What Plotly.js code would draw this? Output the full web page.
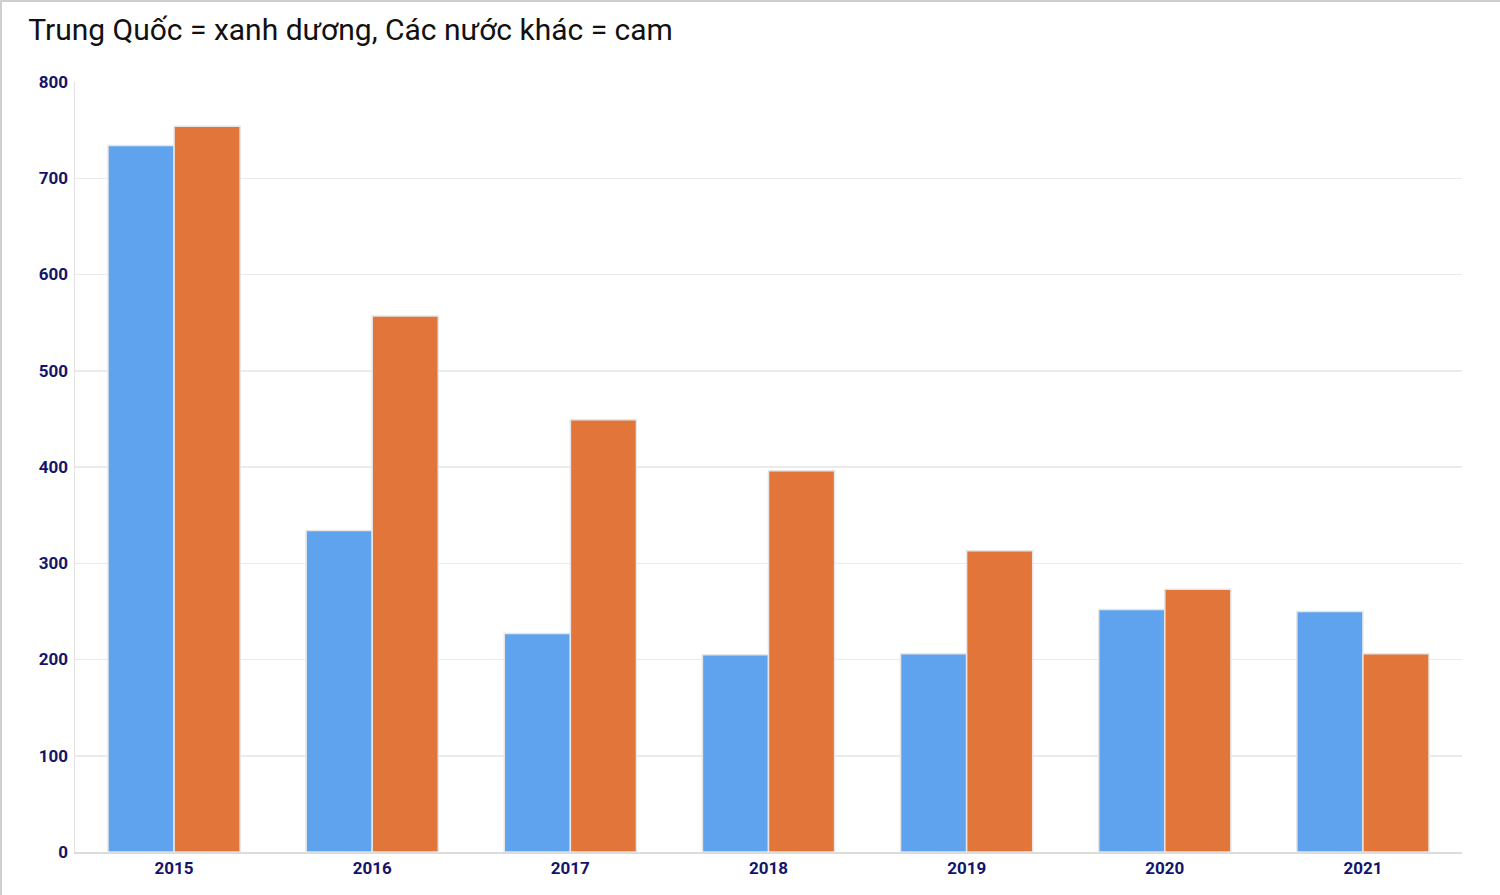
<!DOCTYPE html>
<html>
<head>
<meta charset="utf-8">
<script src="https://cdn.plot.ly/plotly-3.0.1.min.js"></script>
<style>
html,body{margin:0;padding:0;background:#fff;}
#chart{width:1498px;height:893px;border-left:2px solid #cfcfcf;border-top:2px solid #cfcfcf;}
</style>
</head>
<body>
<div id="chart"></div>
<script>
const years = ["2015","2016","2017","2018","2019","2020","2021"];
const chinaValues = [734, 334, 227, 205, 206, 252, 250];
const otherValues = [754, 557, 449, 396, 313, 273, 206];
const yTicks = [0, 100, 200, 300, 400, 500, 600, 700, 800];

const traces = [
  {type:"bar", name:"Trung Quốc", x:years, y:chinaValues,
   marker:{color:"#5fa3ee", line:{color:"#e6e6e6", width:1.5}}},
  {type:"bar", name:"Các nước khác", x:years, y:otherValues,
   marker:{color:"#e2763a", line:{color:"#e6e6e6", width:1.5}}}
];

const layout = {
  width:1498, height:893,
  margin:{l:73, r:38, t:80, b:43},
  paper_bgcolor:"#ffffff", plot_bgcolor:"#ffffff",
  barmode:"group", bargap:0.333, bargroupgap:0,
  showlegend:false,
  title:{text:"Trung Quốc = xanh dương, Các nước khác = cam",
         font:{family:"Roboto, sans-serif", size:30, color:"#111111"},
         x:0.0175, xanchor:"left", y:0.969, yanchor:"middle"},
  xaxis:{type:"category", range:[-0.5,6.5], showgrid:false,
         showline:true, linecolor:"#dcdcdc", linewidth:2,
         ticks:"", tickfont:{family:"Roboto, sans-serif", size:17, color:"#14146b", weight:"bold"}},
  yaxis:{range:[0,800], tickvals:yTicks, ticktext:yTicks.map(String),
         showgrid:true, gridcolor:"#ebebeb", gridwidth:1.5,
         zeroline:false, showline:true, linecolor:"#e3e3e3", linewidth:1.5,
         ticks:"", ticklen:0, ticklabelstandoff:2,
         tickfont:{family:"Roboto, sans-serif", size:17, color:"#14146b", weight:"bold"}}
};

Plotly.newPlot("chart", traces, layout, {displayModeBar:false, staticPlot:true});
</script>
</body>
</html>
